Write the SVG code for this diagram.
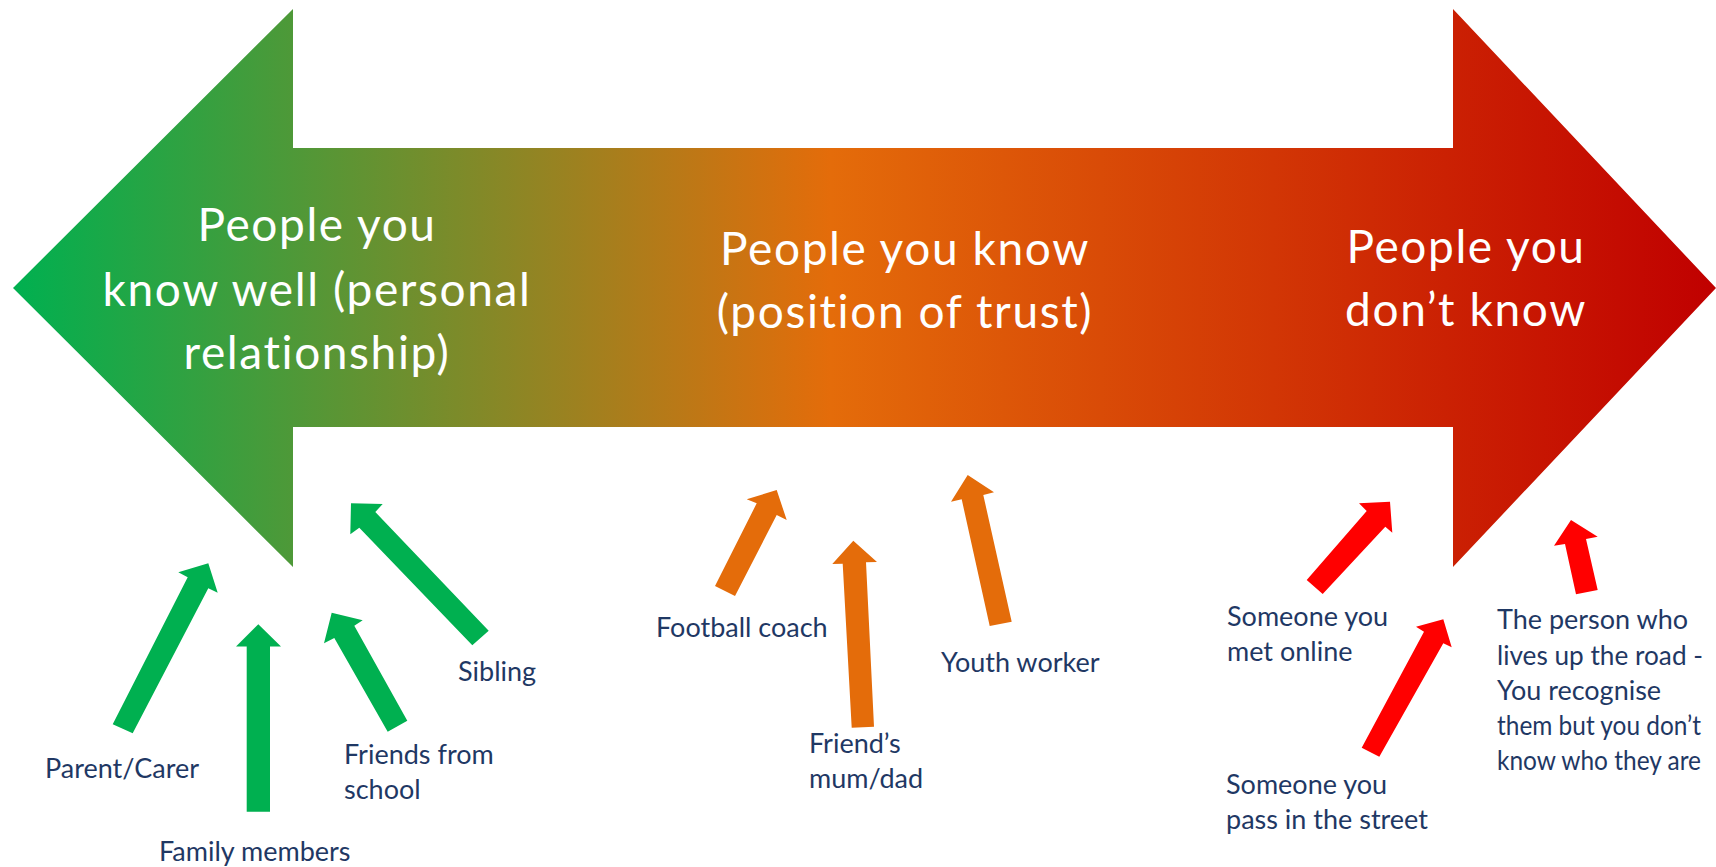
<svg xmlns="http://www.w3.org/2000/svg" width="1716" height="867" viewBox="0 0 1716 867">
  <defs>
    <linearGradient id="spectrumGrad" gradientUnits="userSpaceOnUse" x1="13" y1="0" x2="1716" y2="0">
      <stop offset="0" stop-color="#00B050"/>
      <stop offset="0.48" stop-color="#E46C0A"/>
      <stop offset="1" stop-color="#C00000"/>
    </linearGradient>
  </defs>
  <style>
    .head { font-family: Lato, "Open Sans", "Liberation Sans", sans-serif; font-size: 46px; letter-spacing: 1.6px; fill: #FFFFFF; text-anchor: middle; }
    .lbl { font-family: Lato, "Open Sans", "Liberation Sans", sans-serif; font-size: 27px; fill: #1F3864; }
    .green { fill: #00B050; }
    .orange { fill: #E46C0A; }
    .red { fill: #FF0000; }
  </style>
  <rect width="1716" height="867" fill="#FFFFFF"/>

  <g id="spectrum-arrow">
    <polygon points="13,288 293,9 293,148 1453,148 1453,9 1716,288 1453,567 1453,427 293,427 293,567" fill="url(#spectrumGrad)"/>
  </g>

  <g id="node-know-well">
    <text class="head" x="317" y="241">People you</text>
    <text class="head" x="317" y="306">know well (personal</text>
    <text class="head" x="317" y="369">relationship)</text>
  </g>
  <g id="node-know">
    <text class="head" x="905" y="265">People you know</text>
    <text class="head" x="905" y="328">(position of trust)</text>
  </g>
  <g id="node-dont-know">
    <text class="head" x="1466" y="263">People you</text>
    <text class="head" x="1466" y="326">don’t know</text>
  </g>

  <g id="connectors">
    <polygon class="green" points="112.7,724.3 187.7,577.3 178.3,572.3 208.3,563.3 217.7,592.7 208.3,588.3 132.7,733.3"/>
    <polygon class="green" points="246.7,811.7 246.7,646.5 236,646.5 258.3,624.3 281,646.5 270,646.5 270,811.7"/>
    <polygon class="green" points="387.7,731.7 334.3,638 324,643.3 331.7,612.7 362.7,620.3 354.3,625.7 407.3,720.7"/>
    <polygon class="green" points="472.3,645.3 359.3,527.7 350.3,534.3 351,503.3 382.7,504 375.3,512 488.7,630.7"/>
    <polygon class="orange" points="715,586 756.7,503.3 746.7,499.3 776.7,490 786.7,520 776.7,515 735,596"/>
    <polygon class="orange" points="851.7,727.7 842.7,563.7 832.3,564 853.3,540.7 877,562 866,562.3 874,726.7"/>
    <polygon class="orange" points="989.7,626 961.7,499.3 951,501.7 967.7,475 994,492.3 983.3,495 1011.7,621.7"/>
    <polygon class="red" points="1306.7,580 1366.7,511 1359,503.3 1390,501.7 1392.3,532.7 1385.3,526.7 1322.7,594"/>
    <polygon class="red" points="1361.7,747.7 1424,631.7 1416,626.7 1443.3,619.3 1451.7,647.3 1443.3,643.3 1379.3,756.7"/>
    <polygon class="red" points="1576,594.3 1565,544 1554,545.7 1571,520 1597.7,536.7 1586,539 1597.7,590"/>
  </g>

  <g id="node-parent"><text class="lbl" x="45" y="778">Parent/Carer</text></g>
  <g id="node-family"><text class="lbl" x="159" y="861">Family members</text></g>
  <g id="node-friends-school">
    <text class="lbl" x="344" y="764">Friends from</text>
    <text class="lbl" x="344" y="799">school</text>
  </g>
  <g id="node-sibling"><text class="lbl" x="458" y="681">Sibling</text></g>
  <g id="node-football"><text class="lbl" x="656" y="637">Football coach</text></g>
  <g id="node-friends-parent">
    <text class="lbl" x="809" y="753">Friend’s</text>
    <text class="lbl" x="809" y="788">mum/dad</text>
  </g>
  <g id="node-youth"><text class="lbl" x="941" y="672">Youth worker</text></g>
  <g id="node-online">
    <text class="lbl" x="1227" y="626">Someone you</text>
    <text class="lbl" x="1227" y="661">met online</text>
  </g>
  <g id="node-street">
    <text class="lbl" x="1226" y="794">Someone you</text>
    <text class="lbl" x="1226" y="829">pass in the street</text>
  </g>
  <g id="node-neighbour">
    <text class="lbl" x="1497" y="629">The person who</text>
    <text class="lbl" x="1497" y="665" textLength="206" lengthAdjust="spacingAndGlyphs">lives up the road -</text>
    <text class="lbl" x="1497" y="700">You recognise</text>
    <text class="lbl" x="1497" y="735" textLength="204" lengthAdjust="spacingAndGlyphs">them but you don’t</text>
    <text class="lbl" x="1497" y="770" textLength="204" lengthAdjust="spacingAndGlyphs">know who they are</text>
  </g>
</svg>
